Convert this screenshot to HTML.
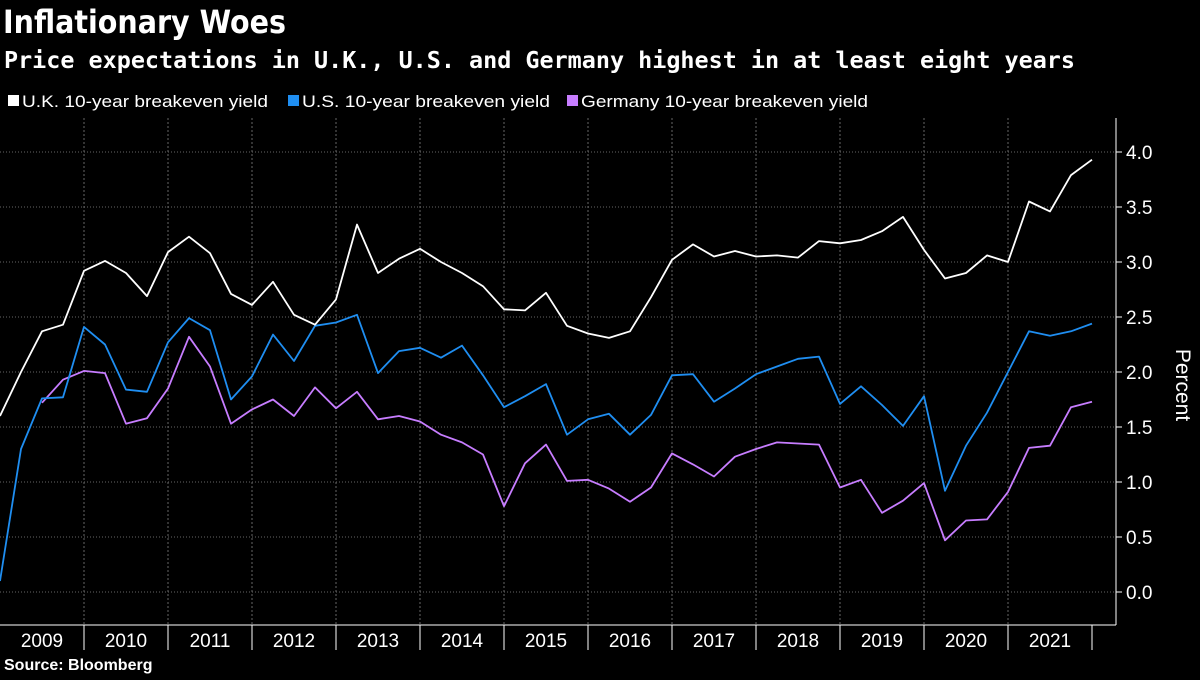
<!DOCTYPE html>
<html><head><meta charset="utf-8"><style>
body{margin:0;background:#000;width:1200px;height:675px;overflow:hidden;font-family:"Liberation Sans",sans-serif;color:#fff}
svg text{font-family:"Liberation Sans",sans-serif}
</style></head><body>
<svg id="chart" width="1200" height="675">
<text x="3" y="33" font-size="32" font-weight="bold" fill="#fff" textLength="283" lengthAdjust="spacingAndGlyphs" style="font-family:'DejaVu Sans',sans-serif">Inflationary Woes</text>
<text x="4" y="68" font-size="23" font-weight="bold" fill="#fff" textLength="1071" lengthAdjust="spacingAndGlyphs" style="font-family:'DejaVu Sans Mono',monospace">Price expectations in U.K., U.S. and Germany highest in at least eight years</text>
<g font-size="17" fill="#fff">
<rect x="8" y="95" width="11" height="11" fill="#fff"/>
<text x="22" y="107" textLength="246" lengthAdjust="spacingAndGlyphs">U.K. 10-year breakeven yield</text>
<rect x="288" y="95" width="11" height="11" fill="#1f8ef1"/>
<text x="302" y="107" textLength="248" lengthAdjust="spacingAndGlyphs">U.S.  10-year breakeven yield</text>
<rect x="567" y="95" width="11" height="11" fill="#c77dff"/>
<text x="581" y="107" textLength="287" lengthAdjust="spacingAndGlyphs">Germany 10-year breakeven yield</text>
</g>
<g id="grid"></g><g id="axes"></g><g id="lines"></g>
<text transform="translate(1176,385) rotate(90)" font-size="21" fill="#fff" text-anchor="middle">Percent</text>
<text x="4" y="670" font-size="16" font-weight="bold" fill="#fff">Source: Bloomberg</text>
</svg>
<script>
const years=["2009","2010","2011","2012","2013","2014","2015","2016","2017","2018","2019","2020","2021"];
const yTicks=[0,0.5,1,1.5,2,2.5,3,3.5,4];
const ukValues=[1.6,2.0,2.37,2.43,2.92,3.01,2.90,2.69,3.09,3.23,3.08,2.71,2.61,2.82,2.52,2.43,2.66,3.34,2.90,3.03,3.12,3.00,2.90,2.78,2.57,2.56,2.72,2.42,2.35,2.31,2.37,2.68,3.02,3.16,3.05,3.10,3.05,3.06,3.04,3.19,3.17,3.20,3.28,3.41,3.11,2.85,2.90,3.06,3.00,3.55,3.46,3.79,3.93];
const usValues=[0.10,1.30,1.76,1.77,2.41,2.25,1.84,1.82,2.27,2.49,2.38,1.75,1.96,2.34,2.10,2.42,2.45,2.52,1.99,2.19,2.22,2.13,2.24,1.97,1.68,1.78,1.89,1.43,1.57,1.62,1.43,1.61,1.97,1.98,1.73,1.85,1.98,2.05,2.12,2.14,1.71,1.87,1.70,1.51,1.78,0.92,1.33,1.63,2.00,2.37,2.33,2.37,2.44];
const deValues=[null,null,1.72,1.93,2.01,1.99,1.53,1.58,1.85,2.32,2.05,1.53,1.66,1.75,1.60,1.86,1.67,1.82,1.57,1.60,1.55,1.43,1.36,1.25,0.78,1.17,1.34,1.01,1.02,0.94,0.82,0.95,1.26,1.16,1.05,1.23,1.30,1.36,1.35,1.34,0.95,1.02,0.72,0.83,0.99,0.47,0.65,0.66,0.91,1.31,1.33,1.68,1.73];
const NS="http://www.w3.org/2000/svg";
const X=i=>i*1092/52;
const Y=v=>592-v*110;
const yearX=k=>k*84;
function mk(tag,attrs,parent){const e=document.createElementNS(NS,tag);for(const k in attrs)e.setAttribute(k,attrs[k]);document.getElementById(parent).appendChild(e);return e;}
yTicks.forEach(t=>{
 const g=mk('line',{x1:0,x2:1116,y1:Y(t),y2:Y(t),stroke:'#666','stroke-dasharray':'1,2'},'grid');
 
 
 const tk=mk('line',{x1:1116,x2:1122,y1:Y(t),y2:Y(t),stroke:'#fff'},'axes');
 
 
 const tx=mk('text',{x:1126,y:Y(t)+7,'font-size':19,fill:'#fff'},'axes');tx.textContent=t.toFixed(1);
 
 
});
years.forEach((y,k)=>{
 if(k>0){const g=mk('line',{x1:yearX(k),x2:yearX(k),y1:118,y2:625,stroke:'#666','stroke-dasharray':'2,2'},'grid');
 
 }
 const tk=mk('line',{x1:yearX(k+1),x2:yearX(k+1),y1:625,y2:650,stroke:'#fff'},'axes');
 
 
 const tx=mk('text',{x:yearX(k)+42,y:647,'font-size':19,fill:'#fff','text-anchor':'middle'},'axes');tx.textContent=y;
 
 
});
const ax=mk('line',{x1:1116,x2:1116,y1:118,y2:625,stroke:'#fff'},'axes');


const bx=mk('line',{x1:0,x2:1116,y1:625,y2:625,stroke:'#fff'},'axes');


function series(vals,color,name){
 let d='';vals.forEach((v,i)=>{if(v==null)return;d+=(d?'L':'M')+X(i).toFixed(1)+','+Y(v).toFixed(1);});
 const p=mk('path',{d:d,fill:'none',stroke:color,'stroke-width':1.8,'stroke-linejoin':'round'},'lines');
 
 
}
series(deValues,'#c77dff','line-germany');
series(usValues,'#1f8ef1','line-us');
series(ukValues,'#ffffff','line-uk');
</script>
</body></html>
